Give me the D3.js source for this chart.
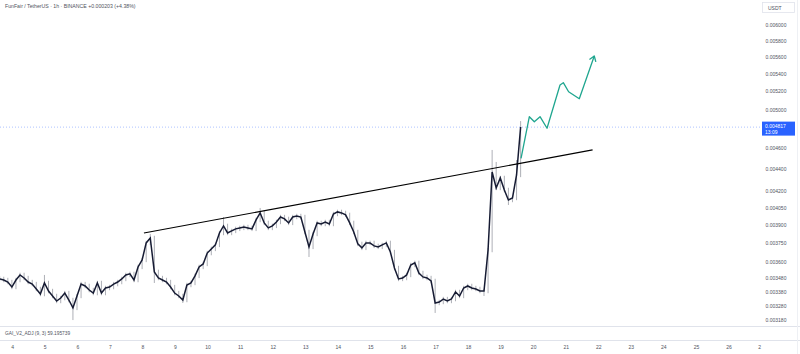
<!DOCTYPE html>
<html><head><meta charset="utf-8">
<script src="https://cdn.jsdelivr.net/npm/d3@7"></script>
<style>body{margin:0;background:#fff;} svg{display:block;font-family:"Liberation Sans",Arial,sans-serif;}</style>
</head><body><svg id="c" width="800" height="354"></svg>
<script>
// ---------- data ----------
const titleText = "FunFair / TetherUS \u00b7 1h \u00b7 BINANCE";
const changeText = "+0.000203 (+4.38%)";
const indicatorText = "GAI_V2_ADJ (9, 3)  59.195739";
const currency = "USDT";
const lastPrice = 0.004817;
const lastPriceLabel = "0.004817";
const countdownLabel = "13:09";

const priceTicks = [0.006, 0.0058, 0.0056, 0.0054, 0.0052, 0.005, 0.0046, 0.0044, 0.0042,
  0.00405, 0.0039, 0.00375, 0.0036, 0.00348, 0.00338, 0.00328, 0.00318];
const dayTicks = [4,5,6,7,8,9,10,11,12,13,14,15,16,17,18,19,20,21,22,23,24,25,26,27];
const dayLabels = ["4","5","6","7","8","9","10","11","12","13","14","15","16","17","18","19","20","21","22","23","24","25","26","2"];

// 3-hour candles starting at day 3.6 (closes)
const candleStartDay = 3.6;
const candleHours = 3;
const firstOpen = 0.003480;
const closes = [
 0.003475,0.003467,0.003452,0.003415,0.003467,0.003505,0.003482,0.003452,0.003437,0.003401,
 0.003364,0.003445,0.003386,0.003350,0.003314,0.003335,0.003371,0.003321,0.003265,0.003350,
 0.003437,0.003423,0.003393,0.003371,0.003445,0.003371,0.003408,0.003415,0.003437,0.003452,
 0.003475,0.003505,0.003513,0.003467,0.003566,0.003620,0.003755,0.003795,0.003528,0.003482,
 0.003467,0.003452,0.003415,0.003371,0.003350,0.003321,0.003430,0.003445,0.003498,0.003566,
 0.003589,0.003674,0.003707,0.003739,0.003836,0.003895,0.003836,0.003853,0.003870,0.003878,
 0.003886,0.003878,0.003870,0.003945,0.004005,0.003920,0.003878,0.003895,0.003928,0.003970,
 0.003954,0.003920,0.003970,0.003979,0.003970,0.003844,0.003723,0.003828,0.003920,0.003911,
 0.003928,0.003911,0.003996,0.004014,0.004005,0.003988,0.003920,0.003844,0.003747,0.003715,
 0.003755,0.003755,0.003731,0.003723,0.003739,0.003755,0.003682,0.003558,0.003475,0.003482,
 0.003505,0.003581,0.003597,0.003520,0.003490,0.003482,0.003460,0.003300,0.003307,0.003328,
 0.003314,0.003328,0.003379,0.003350,0.003408,0.003423,0.003408,0.003401,0.003386,0.003386,
 0.003698,0.004374,0.004226,0.004318,0.004208,0.004118,0.004136,0.004346,0.004818
];
// notable wick extremes [candle index, price]
const wickHighs = [[11,0.003505],[37,0.003828],[55,0.003970],[64,0.004048],[121,0.004586],[122,0.004469],[127,0.004488],[128,0.004880]];
const wickLows = [[18,0.003181],[38,0.003445],[45,0.003300],[76,0.003643],[107,0.003230],[119,0.003350],[125,0.004074]];

// trend line [day, price]
const trendLine = [[8.03,0.003836],[21.81,0.004586]];
// projected path [day, price]
const projection = [[19.613,0.004504],[19.868,0.004926],[20.021,0.004873],[20.196,0.004926],[20.411,0.004805],
  [20.810,0.005274],[20.911,0.005300],[21.074,0.005198],[21.402,0.005120],[21.862,0.005613]];

// ---------- layout ----------
const svg = d3.select("#c");
const paneRight = 762, paneBottom = 326, timeTop = 340;
const x = d3.scaleLinear().domain([4, 26]).range([12.7, 729]);
const y = d3.scaleLog().domain([0.006, 0.00318]).range([25, 320.2]);
const textCol = "#50535e";

svg.append("defs").append("clipPath").attr("id","pane")
  .append("rect").attr("x",0).attr("y",0).attr("width",paneRight).attr("height",paneBottom);

// separators
svg.append("line").attr("x1",0).attr("x2",800).attr("y1",paneBottom+0.5).attr("y2",paneBottom+0.5).attr("stroke","#e0e3eb");
svg.append("line").attr("x1",0).attr("x2",800).attr("y1",timeTop+0.5).attr("y2",timeTop+0.5).attr("stroke","#e0e3eb");

const g = svg.append("g").attr("clip-path","url(#pane)");

// last price dotted line
g.append("line").attr("x1",0).attr("x2",paneRight).attr("y1",y(lastPrice)).attr("y2",y(lastPrice))
  .attr("stroke","#2962ff").attr("stroke-opacity",0.55).attr("stroke-width",0.7).attr("stroke-dasharray","1,2");

// candles
const candles = closes.map((c,i)=>{
  const o = i===0 ? firstOpen : closes[i-1];
  return {day: candleStartDay + i*candleHours/24, o, c};
});
const hiMap = new Map(wickHighs), loMap = new Map(wickLows);
const cg = g.append("g");
candles.forEach((d,i)=>{
  const cx = x(d.day);
  const yo = y(d.o), yc = y(d.c);
  const top = Math.min(yo,yc), bot = Math.max(yo,yc);
  const wt = hiMap.has(i) ? y(hiMap.get(i)) : top - 2.2;
  const wb = loMap.has(i) ? y(loMap.get(i)) : bot + 2.2;
  cg.append("line").attr("x1",cx).attr("x2",cx).attr("y1",wt).attr("y2",wb)
    .attr("stroke","#8a8d97").attr("stroke-width",0.7);
});
// price trace through closes (dense hourly candles read as a jagged line)
const trace = [[candleStartDay - candleHours/24, firstOpen]].concat(candles.map(d=>[d.day, d.c]));
cg.append("path").attr("d", d3.line().x(d=>x(d[0])).y(d=>y(d[1]))(trace)).attr("fill","none")
  .attr("stroke","#161b33").attr("stroke-width",1.5).attr("stroke-linejoin","miter");

// trend line
g.append("line")
  .attr("x1",x(trendLine[0][0])).attr("y1",y(trendLine[0][1]))
  .attr("x2",x(trendLine[1][0])).attr("y2",y(trendLine[1][1]))
  .attr("stroke","#000").attr("stroke-width",1.2);

// projection
const green = "#1fa68f";
const line = d3.line().x(d=>x(d[0])).y(d=>y(d[1]));
g.append("path").attr("d",line(projection)).attr("fill","none").attr("stroke",green).attr("stroke-width",1.3).attr("stroke-linejoin","round");
{
  const a = projection[projection.length-2], b = projection[projection.length-1];
  const x1=x(a[0]), y1=y(a[1]), x2=x(b[0]), y2=y(b[1]);
  const ang = Math.atan2(y2-y1, x2-x1), L = 6, sp = 0.6;
  const pts = [[x2 - L*Math.cos(ang-sp), y2 - L*Math.sin(ang-sp)],[x2,y2],[x2 - L*Math.cos(ang+sp), y2 - L*Math.sin(ang+sp)]];
  g.append("path").attr("d",d3.line()(pts)).attr("fill","none").attr("stroke",green).attr("stroke-width",1.3).attr("stroke-linejoin","round");
}

// price axis
svg.append("rect").attr("x",paneRight).attr("y",0).attr("width",800-paneRight).attr("height",354).attr("fill","#fff");
svg.append("line").attr("x1",paneRight).attr("x2",800).attr("y1",paneBottom+0.5).attr("y2",paneBottom+0.5).attr("stroke","#e0e3eb");
svg.append("line").attr("x1",paneRight).attr("x2",800).attr("y1",timeTop+0.5).attr("y2",timeTop+0.5).attr("stroke","#e0e3eb");
svg.append("line").attr("x1",797.5).attr("x2",797.5).attr("y1",0).attr("y2",354).attr("stroke","#eef0f4");
svg.append("g").selectAll("text").data(priceTicks).join("text")
  .attr("x",776).attr("y",d=>y(d)+1.8).attr("text-anchor","middle")
  .attr("font-size",5).attr("fill",textCol).text(d=>d3.format(".6f")(d));

// currency box
svg.append("rect").attr("x",762.5).attr("y",2.5).attr("width",32).attr("height",10).attr("fill","#fff").attr("stroke","#e0e3eb").attr("stroke-width",0.8);
svg.append("text").attr("x",768).attr("y",9.5).attr("font-size",5).attr("fill",textCol).text(currency);

// last price label
const ly = y(lastPrice);
svg.append("rect").attr("x",762).attr("y",ly-5.5).attr("width",33).attr("height",14).attr("fill","#2962ff");
svg.append("text").attr("x",765).attr("y",ly+1).attr("font-size",5).attr("fill","#fff").text(lastPriceLabel);
svg.append("text").attr("x",765).attr("y",ly+6.8).attr("font-size",5).attr("fill","#fff").text(countdownLabel);

// time axis
svg.append("g").selectAll("text").data(dayTicks).join("text")
  .attr("x",(d,i)=> i===dayTicks.length-1 ? x(d)-2 : x(d)).attr("y",349).attr("text-anchor","middle")
  .attr("font-size",5).attr("fill",textCol).text((d,i)=>dayLabels[i]);

// title & indicator
svg.append("text").attr("x",5).attr("y",8).attr("font-size",5.2).attr("fill",textCol)
  .text(titleText + "   " + changeText);
svg.append("text").attr("x",5).attr("y",334.5).attr("font-size",4.8).attr("fill",textCol).text(indicatorText);
</script>
</body></html>
